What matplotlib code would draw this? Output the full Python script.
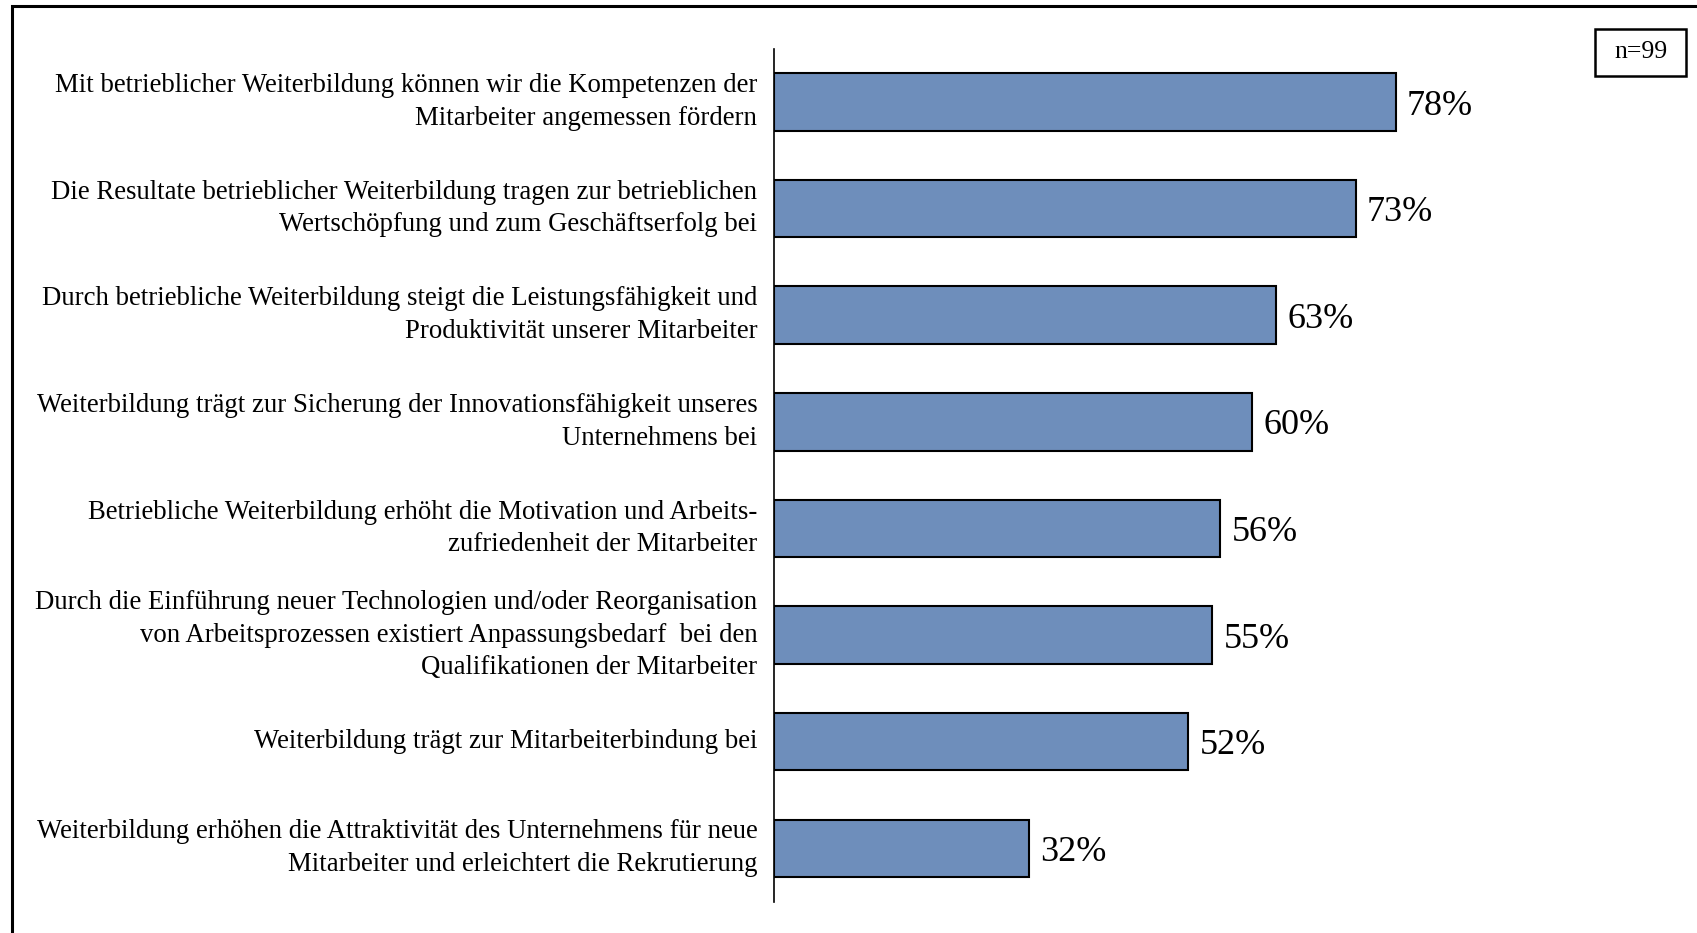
import matplotlib.pyplot as plt
from matplotlib.patches import Rectangle

plt.rcParams['font.family'] = ['Liberation Serif', 'DejaVu Serif']

labels = [
    'Mit betrieblicher Weiterbildung können wir die Kompetenzen der\nMitarbeiter angemessen fördern',
    'Die Resultate betrieblicher Weiterbildung tragen zur betrieblichen\nWertschöpfung und zum Geschäftserfolg bei',
    'Durch betriebliche Weiterbildung steigt die Leistungsfähigkeit und\nProduktivität unserer Mitarbeiter',
    'Weiterbildung trägt zur Sicherung der Innovationsfähigkeit unseres\nUnternehmens bei',
    'Betriebliche Weiterbildung erhöht die Motivation und Arbeits-\nzufriedenheit der Mitarbeiter',
    'Durch die Einführung neuer Technologien und/oder Reorganisation\nvon Arbeitsprozessen existiert Anpassungsbedarf  bei den\nQualifikationen der Mitarbeiter',
    'Weiterbildung trägt zur Mitarbeiterbindung bei',
    'Weiterbildung erhöhen die Attraktivität des Unternehmens für neue\nMitarbeiter und erleichtert die Rekrutierung',
]
values = [78, 73, 63, 60, 56, 55, 52, 32]
n_note = 'n=99'

fig = plt.figure(figsize=(16.97, 9.33), dpi=100)
ax = fig.add_axes([774 / 1697, 31.4 / 933, 797 / 1697, 852.9 / 933])

ypos = list(range(len(values)))
ax.barh(ypos, values, height=0.54, color='#6E8EBB', edgecolor='black', linewidth=1.5)
for y, v in zip(ypos, values):
    ax.text(v + 1.4, y, f'{v}%', va='center_baseline', ha='left', fontsize=26)

ax.set_xlim(0, 100)
ax.set_ylim(len(values) - 0.5, -0.5)
ax.set_yticks(ypos)
ax.set_yticklabels(labels, fontsize=19.3, linespacing=1.4, va='center')
ax.tick_params(axis='y', length=0, pad=12)
ax.set_xticks([])
for s in ['top', 'right', 'bottom']:
    ax.spines[s].set_visible(False)
ax.spines['left'].set_linewidth(1.2)

# n box
bx, by, bw, bh = 1595, 29, 91, 47
fig.patches.append(Rectangle((bx / 1697, 1 - (by + bh) / 933), bw / 1697, bh / 933,
                             transform=fig.transFigure, facecolor='white',
                             edgecolor='black', linewidth=1.8))
fig.text((bx + bw / 2) / 1697, 1 - (by + bh / 2) / 933, n_note,
         ha='center', va='center', fontsize=18.5)

# outer frame (right/bottom edges run off the image)
fig.patches.append(Rectangle((12 / 1697, -0.02), 1.05, 1 - 6 / 933 + 0.02,
                             transform=fig.transFigure, fill=False,
                             edgecolor='black', linewidth=2.2, clip_on=False))

fig.savefig('out.png', dpi=100)
